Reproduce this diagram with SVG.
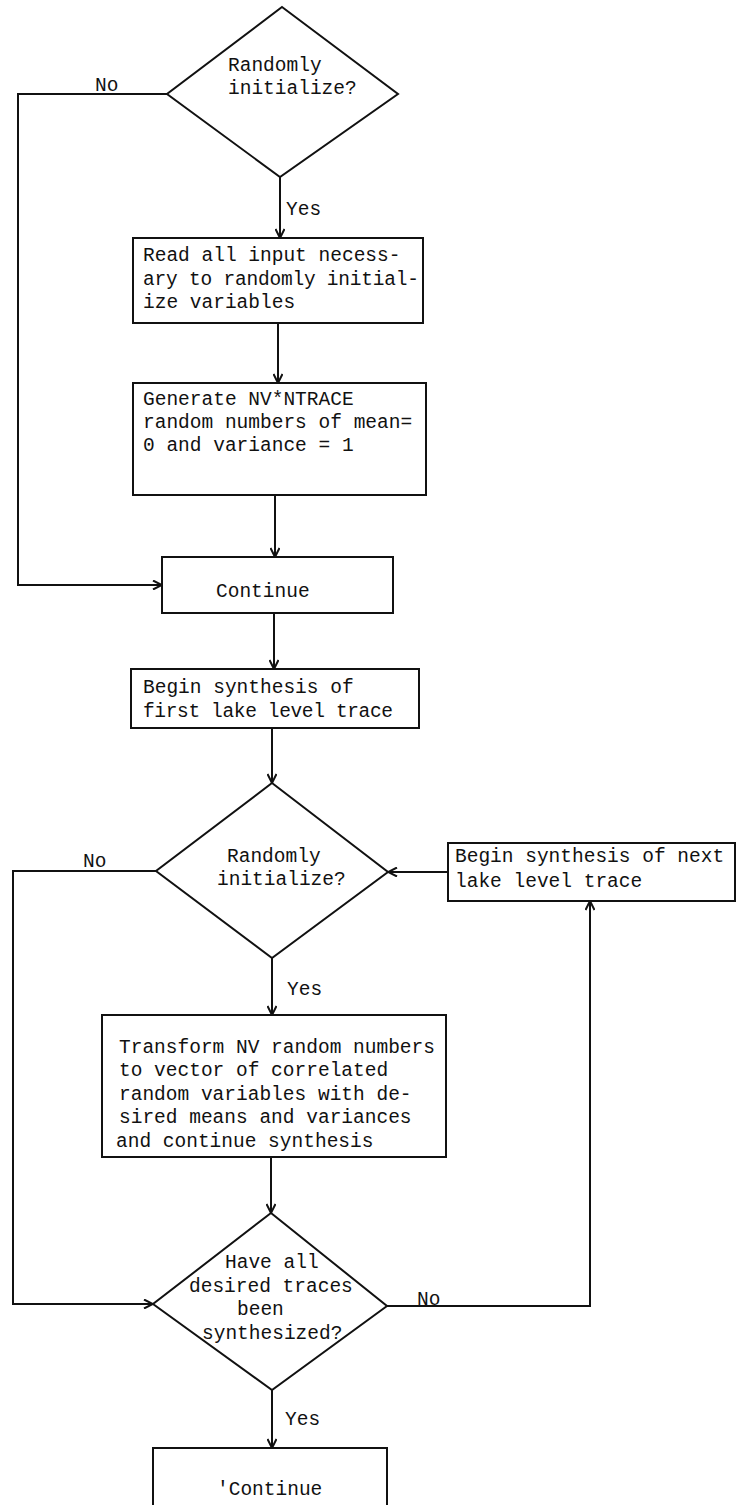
<svg xmlns="http://www.w3.org/2000/svg" width="737" height="1505" viewBox="0 0 737 1505">
<style>
.n{fill:#fff;stroke:#111;stroke-width:2}
.c{fill:none;stroke:#111;stroke-width:2}
text{font-family:"Liberation Mono","DejaVu Sans Mono",monospace;font-size:19.5px;fill:#111}
</style>
<defs>
<marker id="ah" viewBox="0 0 10 10" refX="10" refY="5" markerWidth="10" markerHeight="10" markerUnits="userSpaceOnUse" orient="auto">
<path d="M1,0.5 L10,5 L1,9.5" fill="none" stroke="#111" stroke-width="2"/>
</marker>
</defs>
<rect width="737" height="1505" fill="#fff"/>
<g id="connectors">
<polyline class="c" points="167,94 18,94 18,585 162,585" marker-end="url(#ah)"/>
<line class="c" x1="280" y1="177" x2="280" y2="238" marker-end="url(#ah)"/>
<line class="c" x1="278" y1="323" x2="278" y2="383" marker-end="url(#ah)"/>
<line class="c" x1="275" y1="495" x2="275" y2="557" marker-end="url(#ah)"/>
<line class="c" x1="274" y1="613" x2="274" y2="669" marker-end="url(#ah)"/>
<line class="c" x1="272" y1="728" x2="272" y2="783" marker-end="url(#ah)"/>
<polyline class="c" points="156,871 13,871 13,1304 153,1304" marker-end="url(#ah)"/>
<line class="c" x1="272" y1="958" x2="272" y2="1015" marker-end="url(#ah)"/>
<line class="c" x1="271" y1="1157" x2="271" y2="1213" marker-end="url(#ah)"/>
<polyline class="c" points="387,1306 590,1306 590,901" marker-end="url(#ah)"/>
<line class="c" x1="448" y1="872" x2="388" y2="872" marker-end="url(#ah)"/>
<line class="c" x1="272" y1="1390" x2="272" y2="1448" marker-end="url(#ah)"/>
<text x="95" y="91">No</text>
<text x="286" y="215">Yes</text>
<text x="83" y="867">No</text>
<text x="287" y="995">Yes</text>
<text x="417" y="1305">No</text>
<text x="285" y="1425">Yes</text>
</g>
<g id="d1">
<polygon class="n" points="282,7 398,94 280,177 167,94"/>
<text x="228" y="71">Randomly</text>
<text x="228" y="94">initialize?</text>
</g>
<g id="b1">
<rect class="n" x="133" y="238" width="290" height="85"/>
<text x="143" y="261">Read all input necess-</text>
<text x="143" y="285" textLength="276" lengthAdjust="spacing">ary to randomly initial-</text>
<text x="143" y="308">ize variables</text>
</g>
<g id="b2">
<rect class="n" x="133" y="383" width="293" height="112"/>
<text x="143" y="405">Generate NV*NTRACE</text>
<text x="143" y="428">random numbers of mean=</text>
<text x="143" y="451">0 and variance = 1</text>
</g>
<g id="c1">
<rect class="n" x="162" y="557" width="231" height="56"/>
<text x="216" y="597">Continue</text>
</g>
<g id="b3">
<rect class="n" x="131" y="669" width="288" height="59"/>
<text x="143" y="693">Begin synthesis of</text>
<text x="143" y="717" textLength="250" lengthAdjust="spacing">first lake level trace</text>
</g>
<g id="d2">
<polygon class="n" points="272,783 388,872 272,958 156,871"/>
<text x="227" y="862">Randomly</text>
<text x="217" y="885">initialize?</text>
</g>
<g id="b4">
<rect class="n" x="448" y="843" width="287" height="58"/>
<text x="455" y="862">Begin synthesis of next</text>
<text x="455" y="887">lake level trace</text>
</g>
<g id="b5">
<rect class="n" x="102" y="1015" width="344" height="142"/>
<text x="119" y="1053">Transform NV random numbers</text>
<text x="119" y="1076">to vector of correlated</text>
<text x="119" y="1100">random variables with de-</text>
<text x="119" y="1123">sired means and variances</text>
<text x="116" y="1147">and continue synthesis</text>
</g>
<g id="d3">
<polygon class="n" points="271,1213 387,1306 272,1390 153,1304"/>
<text x="225" y="1268">Have all</text>
<text x="189" y="1292">desired traces</text>
<text x="237" y="1315">been</text>
<text x="202" y="1339">synthesized?</text>
</g>
<g id="c2">
<rect class="n" x="153" y="1448" width="234" height="70"/>
<text x="217" y="1495">'Continue</text>
</g>
</svg>
